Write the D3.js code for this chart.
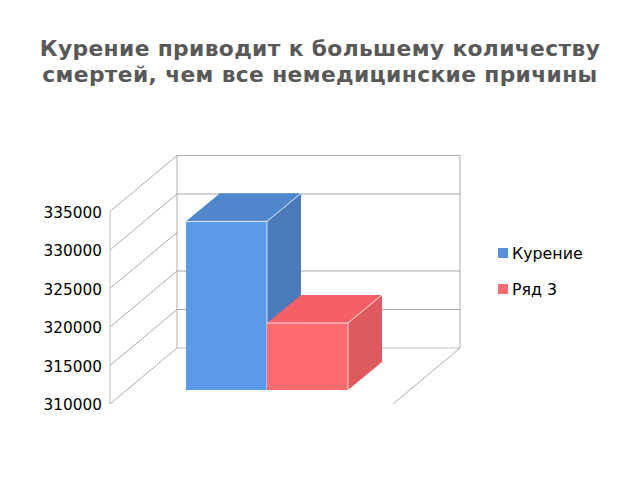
<!DOCTYPE html>
<html><head><meta charset="utf-8">
<style>html,body{margin:0;padding:0;background:#fff}svg{display:block}text{font-family:"DejaVu Sans",sans-serif}</style>
<script src="https://cdn.jsdelivr.net/npm/d3@7"></script></head>
<body><script>
const titleLines = ["Курение приводит к большему количеству","смертей, чем все немедицинские причины"];
const seriesNames = ["Курение","Ряд 3"];
const seriesValues = [331900,318700];
const tickValues = [310000,315000,320000,325000,330000,335000];
const backGridValues = [310000,315000,320000,330000,335000];
const frontColors = ["#5b9aea","#ff6b6f"];
const topColors = ["#4f86cc","#f56066"];
const sideColors = ["#4a7aba","#df5a5c"];
const legendSwatch = ["#5a90d8","#ff6b70"];

const svg = d3.select("body").append("svg").attr("width",640).attr("height",480);
const y = d3.scaleLinear().domain([310000,335000]).range([404,211.5]);
const x = d3.scaleBand().domain(seriesNames).range([186,348]).padding(0);
const wall = {x0:110, dx:67, dy:-56, x1:393};
const barIn = {dx:-0, base:390};
const barDepth = {dx:34, dy:-28};
const grey="#bdbdbd";

svg.selectAll("text.title").data(titleLines).join("text").attr("class","title")
  .attr("x",320).attr("y",(d,i)=>55.5+i*26.5).attr("text-anchor","middle")
  .attr("font-size",21.8).attr("letter-spacing",0.35).attr("font-weight","bold").attr("fill","#595959").text(d=>d);

const g = svg.append("g").attr("fill","none");
// back wall
const yb = v=>y(v)+wall.dy, xb = wall.x0+wall.dx, xbr = wall.x1+wall.dx;
g.append("path").attr("d",`M${xb},${yb(310000)}V${yb(335000)}H${xbr}V${yb(310000)}`).attr("stroke",grey).attr("stroke-width",1.2);
g.selectAll("line.grid").data(backGridValues).join("line").attr("class","grid")
  .attr("x1",xb).attr("x2",xbr).attr("y1",yb).attr("y2",yb)
  .attr("stroke",(d,i)=>i===0?"#c4c4c4":"#a8a8a8").attr("stroke-width",1);
// side wall
g.selectAll("line.side").data(tickValues).join("line").attr("class","side")
  .attr("x1",wall.x0).attr("y1",y).attr("x2",xb).attr("y2",yb)
  .attr("stroke","#a2a2a2").attr("stroke-width",.9);
g.append("line").attr("x1",wall.x0).attr("x2",wall.x0).attr("y1",y(310000)).attr("y2",y(335000)).attr("stroke","#c0c0c0");
g.append("line").attr("x1",wall.x1).attr("y1",y(310000)).attr("x2",xbr).attr("y2",yb(310000)).attr("stroke","#a2a2a2").attr("stroke-width",.9);

// axis labels
svg.selectAll("text.tick").data(tickValues).join("text").attr("class","tick")
  .attr("x",102).attr("y",d=>y(d)+6).attr("text-anchor","end")
  .attr("font-size",15.3).attr("fill","#000").text(d=>d3.format("d")(d));

// bars
const bars = svg.selectAll("g.bar").data(seriesNames.map((n,i)=>({n,v:seriesValues[i],i}))).join("g").attr("class","bar");
bars.each(function(d){
  const b=d3.select(this), l=x(d.n), r=l+x.bandwidth(), t=y(d.v)-14, base=barIn.base;
  const {dx,dy}=barDepth;
  b.append("path").attr("d",`M${r},${t}L${r+dx},${t+dy}V${base+dy}L${r},${base}Z`).attr("fill",sideColors[d.i]);
  b.append("path").attr("d",`M${l},${t}L${l+dx},${t+dy}H${r+dx}L${r},${t}Z`).attr("fill",topColors[d.i]);
  b.append("rect").attr("x",l).attr("y",t).attr("width",r-l).attr("height",base-t).attr("fill",frontColors[d.i]);
  b.append("path").attr("d",`M${l},${t}H${r}V${base}M${r},${t}L${r+dx},${t+dy}`).attr("fill","none").attr("stroke","#fff").attr("stroke-opacity",.75).attr("stroke-width",1);
});

// legend
const leg = svg.selectAll("g.leg").data(seriesNames).join("g").attr("class","leg")
  .attr("transform",(d,i)=>`translate(498,${253+i*36})`);
leg.append("rect").attr("x",0).attr("y",-5).attr("width",10).attr("height",10).attr("fill",(d,i)=>legendSwatch[i]);
leg.append("text").attr("x",14).attr("y",6).attr("font-size",15.8).attr("fill","#000").text(d=>d);
</script></body></html>
